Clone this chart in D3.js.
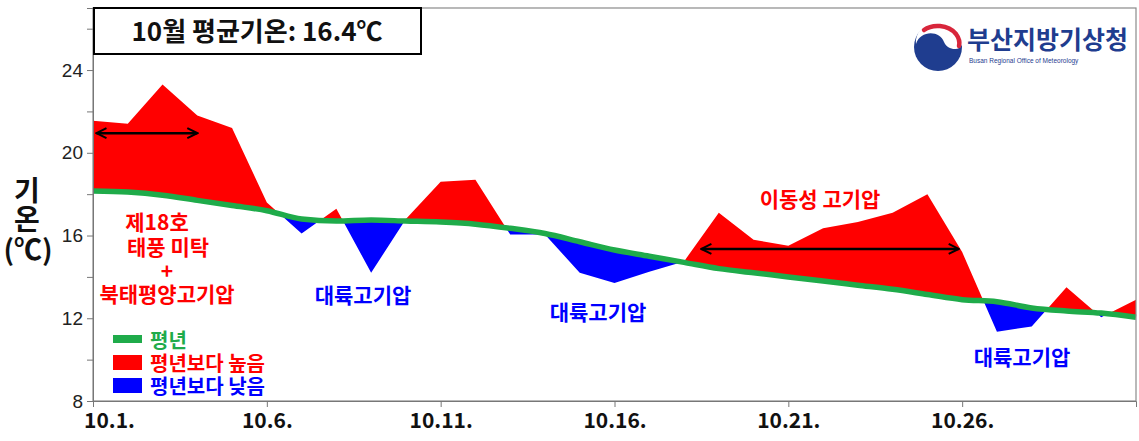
<!DOCTYPE html>
<html>
<head>
<meta charset="utf-8">
<script src="https://cdn.jsdelivr.net/npm/d3@7"></script>
<style>
  body { margin: 0; background: #fff; }
  svg text { font-family: "Noto Sans CJK KR", "Noto Sans", sans-serif; }
</style>
</head>
<body>
<div id="chart"></div>
<script>
// 10월 일평균기온 vs 평년
const days = d3.range(1, 32);
const normalTemp = [18.15, 18.1, 17.95, 17.7, 17.45, 17.2, 16.8, 16.7, 16.75, 16.7,
                    16.65, 16.55, 16.35, 16.1, 15.7, 15.3, 15.0, 14.7, 14.4, 14.2,
                    14.0, 13.8, 13.6, 13.4, 13.15, 12.9, 12.8, 12.5, 12.35, 12.25, 12.05];
const meanTemp = [21.55, 21.4, 23.3, 21.8, 21.2, 17.6, 16.1, 17.3, 14.2, 16.8,
                  18.6, 18.7, 16.05, 16.05, 14.2, 13.7, 14.25, 14.75, 17.1, 15.8,
                  15.5, 16.35, 16.65, 17.1, 18.0, 15.2, 11.35, 11.6, 13.5, 12.05, 12.9];
const yTicks = [8, 12, 16, 20, 24];
const yMinorTicks = [10, 14, 18, 22, 26];
const xTickDays = [1, 6, 11, 16, 21, 26];
const xTickLabels = ["10.1.", "10.6.", "10.11.", "10.16.", "10.21.", "10.26."];
const legendLabels = ["평년", "평년보다 높음", "평년보다 낮음"];

const width = 1139, height = 441;
const margin = { top: 8, right: 3, bottom: 40, left: 93 };
const innerWidth = width - margin.left - margin.right;
const innerHeight = height - margin.top - margin.bottom;

const RED = "#ff0000", BLUE = "#0000ff", GREEN = "#1fab4a", NAVY = "#1f3d8f";

const data = days.map((d, i) => ({ day: d, normal: normalTemp[i], mean: meanTemp[i] }));

const svgRoot = d3.select("#chart").append("svg")
    .attr("width", width).attr("height", height);

const svg = svgRoot.append("g")
    .attr("transform", "translate(" + margin.left + "," + margin.top + ")");

const x = d3.scaleLinear().domain([1, 31]).range([0, innerWidth]);
const y = d3.scaleLinear().domain([8, 27]).range([innerHeight, 0]);

// clip regions above / below the normal line
const defs = svgRoot.append("defs");
defs.append("clipPath").attr("id", "above")
  .append("path").datum(data)
  .attr("d", d3.area().x(d => x(d.day)).y0(-50).y1(d => y(d.normal)));
defs.append("clipPath").attr("id", "below")
  .append("path").datum(data)
  .attr("d", d3.area().x(d => x(d.day)).y0(innerHeight + 50).y1(d => y(d.normal)));

const diffArea = d3.area()
    .x(d => x(d.day))
    .y0(d => y(d.normal))
    .y1(d => y(d.mean));

svg.append("path").datum(data)
    .attr("clip-path", "url(#above)")
    .attr("fill", RED)
    .attr("d", diffArea);

svg.append("path").datum(data)
    .attr("clip-path", "url(#below)")
    .attr("fill", BLUE)
    .attr("d", diffArea);

// normal line
svg.append("path").datum(data)
    .attr("fill", "none")
    .attr("stroke", GREEN)
    .attr("stroke-width", 5.5)
    .attr("stroke-linejoin", "round")
    .attr("d", d3.line().x(d => x(d.day)).y(d => y(d.normal)).curve(d3.curveMonotoneX));

// frame
svg.append("rect")
    .attr("x", 0).attr("y", 0)
    .attr("width", innerWidth).attr("height", innerHeight)
    .attr("fill", "none")
    .attr("stroke", "#8a8a8a")
    .attr("stroke-width", 1.2);

// Y axis
const yAxis = svg.append("g")
    .call(d3.axisLeft(y).tickValues(yTicks).tickSize(6).tickFormat(d3.format("d")));
yAxis.select(".domain").attr("stroke", "#777");
yAxis.selectAll(".tick line").attr("stroke", "#777");
yAxis.selectAll("text")
    .style("font-family", "Liberation Sans, Arial, sans-serif")
    .style("font-size", "19px")
    .attr("fill", "#222")
    .attr("x", -10);

const yMinor = svg.append("g")
    .call(d3.axisLeft(y).tickValues(yMinorTicks).tickSize(6).tickFormat(""));
yMinor.select(".domain").remove();
yMinor.selectAll(".tick line").attr("stroke", "#777");

// X axis
const xAxis = svg.append("g")
    .attr("transform", "translate(0," + innerHeight + ")")
    .call(d3.axisBottom(x).tickValues(xTickDays).tickSize(6)
      .tickFormat((d, i) => xTickLabels[i]));
xAxis.select(".domain").attr("stroke", "#777");
xAxis.selectAll(".tick line").attr("stroke", "#777");
xAxis.selectAll("text")
    .style("font-family", "Noto Sans CJK KR, sans-serif")
    .style("font-size", "21px")
    .style("font-weight", "700")
    .attr("fill", "#111")
    .attr("y", 12)
    .attr("dx", (d, i) => i === 0 ? 16 : 0);

// Y axis title
const yTitle = svgRoot.append("g")
    .attr("font-weight", 700)
    .attr("font-size", 28)
    .attr("text-anchor", "middle")
    .attr("fill", "#111");
yTitle.append("text").attr("x", 27).attr("y", 201).text("기");
yTitle.append("text").attr("x", 27).attr("y", 230).text("온");
yTitle.append("text").attr("x", 28).attr("y", 260).text("(℃)");

// title box
svgRoot.append("rect")
    .attr("x", 94).attr("y", 8).attr("width", 327).attr("height", 46)
    .attr("fill", "#fff").attr("stroke", "#000").attr("stroke-width", 2);
svgRoot.append("text")
    .attr("x", 257).attr("y", 41)
    .attr("text-anchor", "middle")
    .attr("font-size", 26).attr("font-weight", 700)
    .attr("fill", "#111")
    .text("10월 평균기온: 16.4℃");

// logo
const logo = svgRoot.append("g");
logo.append("circle").attr("cx", 938).attr("cy", 47).attr("r", 24).attr("fill", NAVY);
logo.append("path")
    .attr("d", "M 916 44 C 920 30, 940 30, 944 42 C 947 50, 960 52, 962 44 C 962 30, 950 22, 938 22 C 925 22, 915 32, 916 44 Z")
    .attr("fill", "#fff");
logo.append("path")
    .attr("d", "M 924 30 C 932 24, 948 24, 956 34 C 959 38, 960 42, 959 46")
    .attr("fill", "none").attr("stroke", "#d8263b").attr("stroke-width", 4.5)
    .attr("stroke-linecap", "round");
logo.append("text")
    .attr("x", 967).attr("y", 49)
    .attr("font-size", 25).attr("font-weight", 700)
    .attr("fill", NAVY)
    .text("부산지방기상청");
logo.append("text")
    .attr("x", 969).attr("y", 63)
    .attr("font-size", 6.5)
    .attr("fill", NAVY)
    .style("font-family", "Liberation Sans, Arial, sans-serif")
    .text("Busan Regional Office of Meteorology");

// arrows
const marker = defs.append("marker")
    .attr("id", "head").attr("viewBox", "0 0 10 10")
    .attr("refX", 9).attr("refY", 5)
    .attr("markerWidth", 5).attr("markerHeight", 5)
    .attr("markerUnits", "strokeWidth")
    .attr("orient", "auto-start-reverse");
marker.append("path").attr("d", "M1,1 L9,5 L1,9")
    .attr("fill", "none").attr("stroke", "#000").attr("stroke-width", 1.6);

function arrow(d0, d1, t) {
  svg.append("line")
    .attr("x1", x(d0)).attr("x2", x(d1))
    .attr("y1", y(t)).attr("y2", y(t))
    .attr("stroke", "#000").attr("stroke-width", 2.5)
    .attr("marker-start", "url(#head)")
    .attr("marker-end", "url(#head)");
}
arrow(1.1, 4.0, 20.95);
arrow(18.5, 25.9, 15.35);

// annotations
function note(txt, cx, cy, color, size) {
  svgRoot.append("text")
    .attr("x", cx).attr("y", cy)
    .attr("text-anchor", "middle")
    .attr("dominant-baseline", "central")
    .attr("font-size", size || 21).attr("font-weight", 700)
    .attr("fill", color)
    .text(txt);
}
note("제18호", 157, 221, RED);
note("태풍 미탁", 168, 246, RED);
note("+", 167, 270, RED);
note("북태평양고기압", 167, 293, RED);
note("대륙고기압", 363, 294, BLUE);
note("대륙고기압", 598, 311, BLUE);
note("대륙고기압", 1022, 356, BLUE);
note("이동성 고기압", 820, 198, RED);

// legend
const legend = svgRoot.append("g");
legend.append("rect").attr("x", 113).attr("y", 335).attr("width", 29).attr("height", 8).attr("fill", GREEN);
legend.append("rect").attr("x", 113).attr("y", 355).attr("width", 29).attr("height", 15).attr("fill", RED);
legend.append("rect").attr("x", 113).attr("y", 378).attr("width", 29).attr("height", 15).attr("fill", BLUE);
[GREEN, RED, BLUE].forEach((c, i) => {
  legend.append("text")
    .attr("x", 150).attr("y", [339, 362, 385][i])
    .attr("dominant-baseline", "central")
    .attr("font-size", 20).attr("font-weight", 700)
    .attr("fill", c)
    .text(legendLabels[i]);
});
</script>
</body>
</html>
